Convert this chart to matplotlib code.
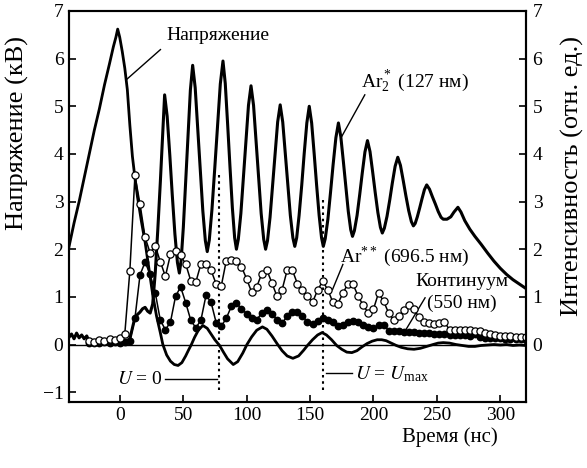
import matplotlib
matplotlib.use("Agg")
import matplotlib.pyplot as plt

plt.rcParams['font.family'] = ['Liberation Serif', 'DejaVu Serif']
plt.rcParams['mathtext.fontset'] = 'stix'
plt.rcParams['font.size'] = 14

# Discharge voltage (kV)
volt_t = [-40, -36, -32, -28, -24, -20, -16, -12, -8, -5, -3, -1.6, 0, 2, 4, 6, 8, 10, 12, 14,
          17, 20, 23, 26, 29, 32, 34, 37, 40, 43, 46, 49, 52, 54, 56.5, 59, 62, 65.5, 69, 72,
          75, 78.7, 82, 85, 89.5, 93, 97, 100.3, 104, 108, 112.5, 116, 120, 124, 128, 132, 136.5,
          141, 145, 148, 152, 156, 159.5, 163, 167, 171, 175, 179, 183, 187, 191, 195, 199, 203,
          206.5, 210, 214, 218, 222, 227, 232, 237, 242, 247, 251, 255, 260, 265, 270, 275, 280,
          285, 290, 295, 300, 305, 310, 315, 320]
volt_kv = [2.05, 2.55, 3.0, 3.5, 4.0, 4.5, 4.95, 5.45, 5.9, 6.25, 6.45, 6.62, 6.45, 6.15, 5.8,
           5.35, 4.6, 3.95, 3.5, 3.1, 2.6, 2.15, 1.6, 1.05, 0.6, 0.25, 0.0, -0.22, -0.35, -0.42,
           -0.44, -0.38, -0.24, -0.13, 0.0, 0.15, 0.3, 0.40, 0.34, 0.22, 0.1, -0.02, -0.17, -0.3,
           -0.42, -0.36, -0.18, 0.0, 0.16, 0.3, 0.37, 0.32, 0.18, 0.02, -0.13, -0.24, -0.29, -0.24,
           -0.12, -0.02, 0.1, 0.2, 0.25, 0.2, 0.1, -0.02, -0.1, -0.16, -0.17, -0.13, -0.05, 0.02,
           0.07, 0.1, 0.1, 0.08, 0.03, -0.02, -0.06, -0.09, -0.1, -0.08, -0.04, 0.0, 0.03, 0.04,
           0.03, 0.0, -0.02, -0.04, -0.04, -0.02, -0.01, 0.0, -0.01, 0.0, -0.02, -0.01, -0.02]

# Ar2* excimer emission, 127 nm
ar2_t = [-40, -38, -36, -34, -32, -30, -28, -26, -24, -20, -15, -10, -5, 0, 5, 8, 10, 12, 14, 16,
         18, 20, 22, 24, 26, 28, 30, 32, 34, 35.4,
         37.4, 39.5, 41.4, 43.5, 45.5, 47.0,
         48.4, 50.15, 52.0, 53.8, 55.7, 57.5,
         59.5, 61.5, 63.5, 65.5, 67.5, 69.0,
         70.6, 72.7, 74.95, 77.1, 79.3, 81.4,
         83.2, 85.1, 86.9, 88.8, 90.6, 92.0,
         93.5, 95.5, 97.5, 99.5, 101.5, 103.5,
         105.5, 107.5, 109.5, 111.5, 113.5, 115.0,
         116.5, 118.5, 120.5, 122.5, 124.5, 126.5,
         128.5, 130.5, 132.5, 134.5, 136.5, 138.0,
         139.5, 141.4, 143.5, 145.4, 147.5, 149.4,
         151.3, 153.3, 155.2, 157.2, 159.1, 160.5,
         162.0, 164.1, 166.2, 168.2, 170.4, 172.4,
         174.3, 176.3, 178.2, 180.2, 182.1, 183.5,
         185.0, 187.1, 189.2, 191.2, 193.3, 195.3,
         197.3, 199.4, 201.4, 203.5, 205.5, 207.0,
         208.6, 210.7, 212.9, 214.9, 217.1, 219.2,
         221.3, 223.5, 225.6, 227.8, 229.9, 231.5,
         232.9, 234.6, 236.5, 238.3, 240.2, 242.0,
         244.2, 246.5, 248.8, 251.1, 253.3, 255.0,
         258, 261, 263.5, 266.6, 269, 272, 276, 280, 285, 290, 295, 300, 305, 310, 315, 320]
ar2_int = [0.15, 0.22, 0.12, 0.24, 0.14, 0.2, 0.12, 0.18, 0.06, 0.04, 0.05, 0.05, 0.06, 0.06, 0.07,
           0.12, 0.35, 0.57, 0.63, 0.68, 0.75, 0.78, 0.7, 0.66, 0.85, 1.5, 2.4, 3.4, 4.5, 5.24,
           4.79, 3.97, 3.15, 2.32, 1.72, 1.5,
           1.76, 2.46, 3.42, 4.38, 5.34, 5.86,
           5.39, 4.53, 3.67, 2.81, 2.18, 1.95,
           2.19, 2.83, 3.71, 4.59, 5.47, 5.95,
           5.48, 4.61, 3.74, 2.87, 2.24, 2.0,
           2.21, 2.75, 3.51, 4.26, 5.02, 5.43,
           5.02, 4.26, 3.51, 2.75, 2.21, 2.0,
           2.18, 2.67, 3.33, 4.0, 4.67, 5.03,
           4.67, 4.02, 3.37, 2.71, 2.24, 2.06,
           2.24, 2.71, 3.35, 4.0, 4.65, 5.0,
           4.65, 4.0, 3.35, 2.71, 2.24, 2.06,
           2.22, 2.63, 3.2, 3.77, 4.34, 4.65,
           4.36, 3.84, 3.32, 2.79, 2.41, 2.27,
           2.39, 2.71, 3.15, 3.6, 4.04, 4.28,
           4.05, 3.62, 3.19, 2.77, 2.46, 2.34,
           2.44, 2.69, 3.04, 3.39, 3.74, 3.93,
           3.76, 3.44, 3.12, 2.81, 2.58, 2.49,
           2.54, 2.68, 2.87, 3.06, 3.25, 3.35,
           3.26, 3.1, 2.95, 2.79, 2.67, 2.63,
           2.63, 2.68, 2.78, 2.88, 2.78, 2.6, 2.42, 2.27, 2.1, 1.92, 1.75, 1.6, 1.47, 1.36,
           1.27, 1.18]

# Sampling times of the line and continuum measurements (ns)
samp_t = [-24, -20, -16, -12, -8, -4, 0, 4, 8, 12, 16, 20, 24, 28, 32, 36, 40, 44, 48, 52, 56,
          60, 64, 68, 72, 76, 80, 84, 88, 92, 96, 100, 104, 108, 112, 116, 120, 124, 128, 132,
          136, 140, 144, 148, 152, 156, 160, 164, 168, 172, 176, 180, 184, 188, 192, 196, 200,
          204, 208, 212, 216, 220, 224, 228, 232, 236, 240, 244, 248, 252, 256, 260, 264, 268,
          272, 276, 280, 284, 288, 292, 296, 300, 304, 308, 312, 316, 320]

# Ar** line, 696.5 nm
arss_int = [0.07, 0.06, 0.1, 0.08, 0.12, 0.1, 0.13, 0.22, 1.55, 3.55, 2.95, 2.25, 1.92, 2.07,
            1.74, 1.43, 1.89, 1.97, 1.87, 1.69, 1.34, 1.31, 1.69, 1.69, 1.56, 1.27, 1.22, 1.76,
            1.78, 1.76, 1.63, 1.38, 1.10, 1.21, 1.49, 1.56, 1.29, 1.01, 1.15, 1.56, 1.57, 1.28,
            1.15, 1.01, 0.89, 1.14, 1.33, 1.15, 0.89, 0.86, 1.08, 1.28, 1.26, 1.01, 0.82, 0.66,
            0.74, 1.08, 0.91, 0.66, 0.52, 0.59, 0.73, 0.82, 0.74, 0.57, 0.47, 0.45, 0.44, 0.45,
            0.47, 0.31, 0.31, 0.30, 0.30, 0.30, 0.28, 0.28, 0.25, 0.22, 0.2, 0.18, 0.18, 0.17,
            0.16, 0.16, 0.15]

# Continuum, 550 nm
cont_int = [0.04, 0.04, 0.03, 0.05, 0.04, 0.05, 0.04, 0.06, 0.08, 0.55, 1.46, 1.73, 1.47, 1.09,
            0.51, 0.31, 0.47, 1.01, 1.21, 0.88, 0.51, 0.35, 0.51, 1.03, 0.89, 0.46, 0.38, 0.55,
            0.8, 0.87, 0.75, 0.65, 0.55, 0.52, 0.66, 0.73, 0.65, 0.52, 0.45, 0.59, 0.69, 0.69,
            0.6, 0.47, 0.43, 0.49, 0.56, 0.51, 0.47, 0.38, 0.42, 0.47, 0.49, 0.47, 0.42, 0.37,
            0.35, 0.4, 0.42, 0.29, 0.28, 0.28, 0.27, 0.27, 0.26, 0.25, 0.25, 0.24, 0.23, 0.22,
            0.22, 0.21, 0.2, 0.19, 0.19, 0.18, 0.22, 0.15, 0.14, 0.14, 0.13, 0.13, 0.12, 0.12,
            0.11, 0.11, 0.1]

x_ticks = [0, 50, 100, 150, 200, 250, 300]
left_ticks = [-1, 0, 1, 2, 3, 4, 5, 6, 7]
right_ticks = [0, 1, 2, 3, 4, 5, 6, 7]

fig = plt.figure(figsize=(5.87, 4.68), dpi=100)
ax = fig.add_axes([0.1175, 0.1417, 0.778, 0.8348])
ax.set_xlim(-40, 320)
ax.set_ylim(-1.2, 7)

ax.axhline(0, color='black', lw=1.0, zorder=1)

ax.plot(volt_t, volt_kv, color='black', lw=2.0, zorder=3)
ax.plot(ar2_t, ar2_int, color='black', lw=2.2, zorder=3)
ax.plot(samp_t, cont_int, color='black', lw=1.1, marker='o', ms=4.6,
        mfc='black', mec='black', zorder=4)
ax.plot(samp_t, arss_int, color='black', lw=1.1, marker='o', ms=5.2,
        mfc='white', mec='black', mew=0.9, zorder=5)

# Moments U = 0 and U = Umax
ax.plot([78.6, 78.6], [-0.95, 3.6], color='black', lw=1.5, ls=(0, (1.2, 1.8)), zorder=2)
ax.plot([160, 160], [-0.95, 3.05], color='black', lw=1.5, ls=(0, (1.2, 1.8)), zorder=2)

ax.text(-2.5, -0.73, '$U$ = 0', ha='left', va='center')
ax.plot([36, 76.5], [-0.73, -0.73], color='black', lw=1.0)
ax.plot([162.5, 183], [-0.59, -0.59], color='black', lw=1.0)
ax.text(185.5, -0.62, '$U$ = $U_{\\mathregular{max}}$', ha='left', va='center')

# Curve labels with leader lines
ax.text(36.8, 6.48, 'Напряжение', ha='left', va='center')
ax.plot([32.1, 5.3], [6.19, 5.56], color='black', lw=1.0)

ax.text(190.5, 5.52, '$\\mathregular{Ar_2^*}$ (127 нм)', ha='left', va='center')
ax.plot([193.2, 175.1], [5.24, 4.37], color='black', lw=1.0)

ax.text(173.8, 1.85, '$\\mathregular{Ar^{**}}$ (696.5 нм)', ha='left', va='center')
ax.plot([175.9, 167.7], [1.68, 1.15], color='black', lw=1.0)

ax.text(232.8, 1.33, 'Континуум', ha='left', va='center')
ax.text(242, 0.87, '(550 нм)', ha='left', va='center')
ax.plot([240.7, 224.9], [0.98, 0.28], color='black', lw=1.0)

ax.set_xticks(x_ticks)
ax.set_yticks(left_ticks)
ax.set_yticklabels(['\u22121'] + [str(v) for v in left_ticks[1:]])
ax.tick_params(axis='both', direction='in', length=5, width=1.2, labelsize=14, pad=4)
ax.tick_params(top=False, right=False)
for s in ax.spines.values():
    s.set_linewidth(1.5)

ax2 = ax.twinx()
ax2.set_ylim(-1.2, 7)
ax2.set_yticks(right_ticks)
ax2.tick_params(axis='y', direction='in', length=5, width=1.2, labelsize=14, pad=5)
for s in ax2.spines.values():
    s.set_linewidth(1.5)

fig.text(17 / 587, 1 - 133 / 468, 'Напряжение (кВ)', rotation=90, ha='center', va='center',
         fontsize=19)
fig.text(572 / 587, 1 - 176 / 468, 'Интенсивность (отн. ед.)', rotation=90, ha='center',
         va='center', fontsize=19)
fig.text(450 / 587, 1 - 437 / 468, 'Время (нс)', ha='center', va='center', fontsize=15)

fig.savefig('out.png', dpi=100)
